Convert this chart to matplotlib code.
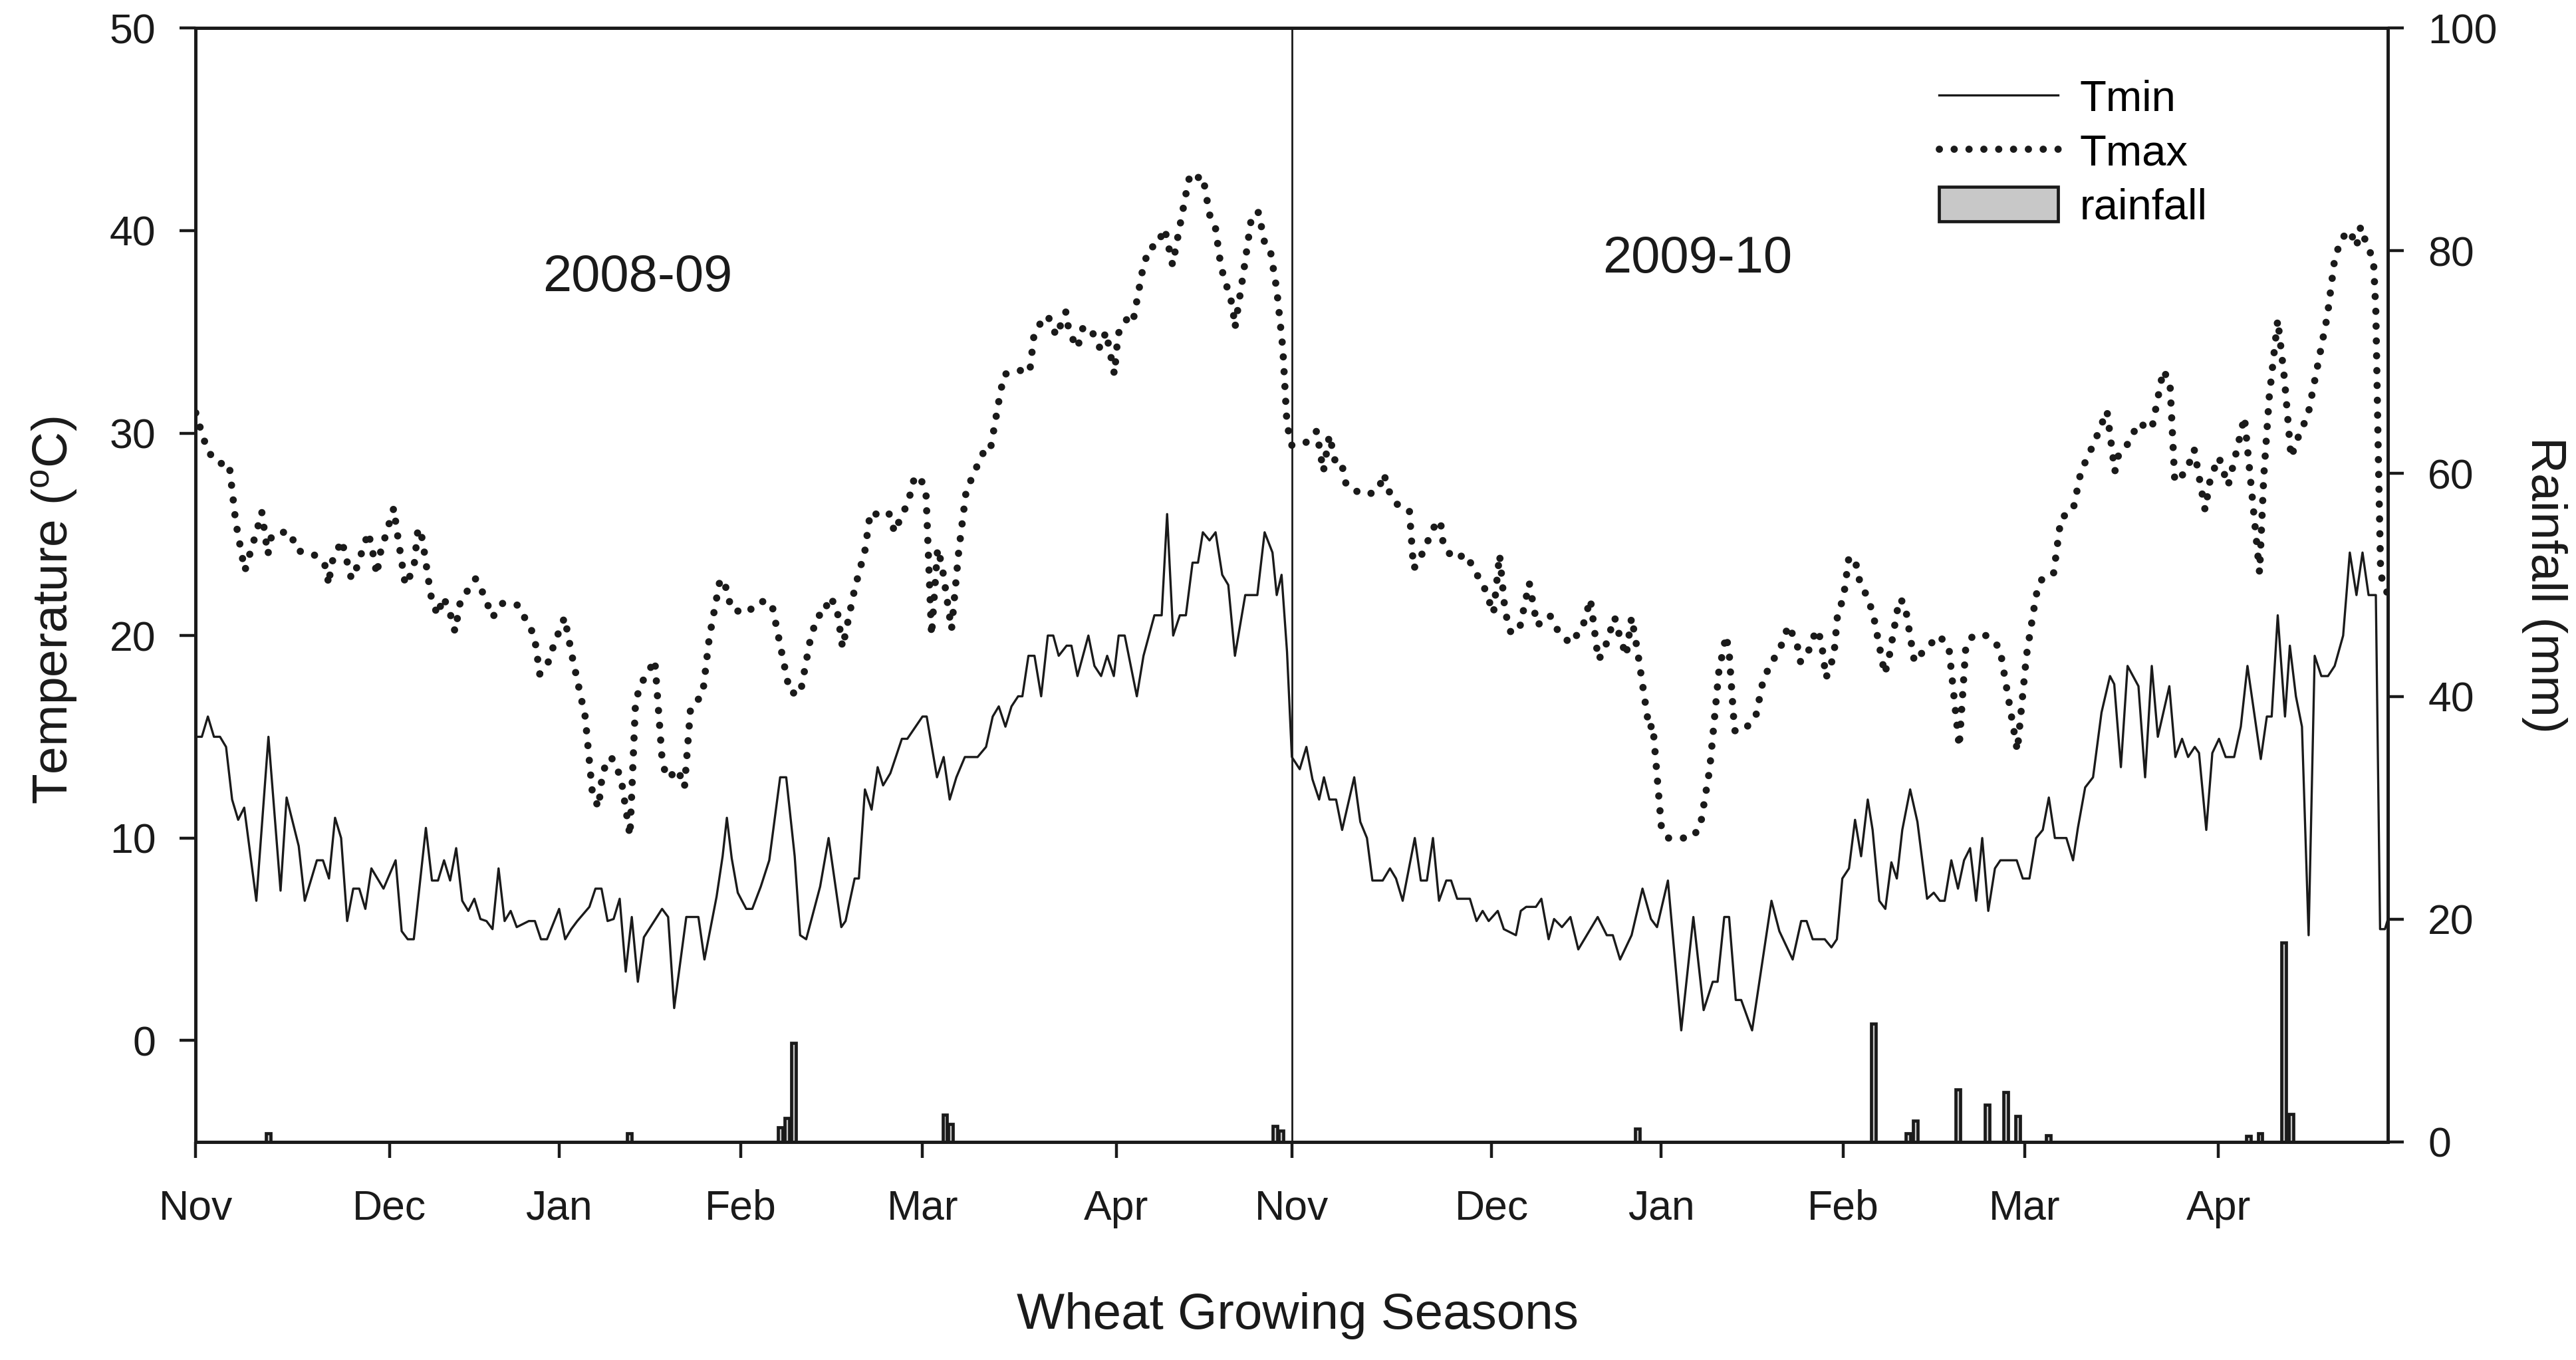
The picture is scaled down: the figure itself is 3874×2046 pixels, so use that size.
import numpy as np
import matplotlib
matplotlib.use("Agg")
import matplotlib.pyplot as plt

plt.rcParams['font.family'] = ['Liberation Sans', 'DejaVu Sans']
plt.rcParams['mathtext.fontset'] = 'custom'
plt.rcParams['mathtext.rm'] = 'Liberation Sans'

# day number counted from 1 Nov 2008 (season 2 starts at day 181)
tmin_days_0809 = [0, 1, 2, 3, 4, 5, 6, 7, 8, 10, 12, 14, 15, 17, 18, 20, 21, 22, 23, 24,
                  25, 26, 27, 28, 29, 31, 33, 34, 35, 36, 38, 39, 40, 41, 42, 43, 44, 45, 46, 47,
                  48, 49, 50, 51, 52, 53, 55, 56, 57, 58, 60, 61, 62, 63, 65, 66, 67, 68, 69, 70,
                  71, 72, 73, 74, 77, 78, 79, 81, 82, 83, 84, 86, 87, 87.7, 88.5, 89.5, 90.9, 91.9, 93.3, 94.7,
                  96.5, 97.5, 98.9, 99.8, 100.8, 103.1, 104.5, 106.6, 107.3, 108.8, 109.5, 110.5, 111.6, 112.6, 113.5, 114.7,
                  116.6, 117.5, 120, 120.7, 122.4, 123.5, 124.5, 125.6, 127, 129.1, 130.5, 131.6, 132.6, 133.7, 134.7, 135.8,
                  136.5, 137.5, 138.5, 139.6, 140.7, 141.6, 142.5, 143.8, 144.6, 145.6, 147.4, 148.4, 149.5, 150.5, 151.6, 152.4,
                  153.4, 155.4, 156.5, 158.3, 159.5, 160.4, 161.4, 162.5, 163.5, 164.6, 165.5, 166.3, 167.4, 168.4, 169.5, 170.5,
                  171.6, 173.3, 175.3, 176.5, 177.8, 178.5, 179.3, 180.2]
tmin_0809 = [15.0, 15.0, 16.0, 15.0, 15.0, 14.5, 11.9, 10.9, 11.5, 6.9, 15.0, 7.4, 12.0, 9.6, 6.9, 8.9, 8.9, 8.0, 11.0, 10.0,
             5.9, 7.5, 7.5, 6.5, 8.5, 7.5, 8.9, 5.4, 5.0, 5.0, 10.5, 7.9, 7.9, 8.9, 7.9, 9.5, 6.9, 6.4, 7.0, 6.0,
             5.9, 5.5, 8.5, 5.9, 6.4, 5.6, 5.9, 5.9, 5.0, 5.0, 6.5, 5.0, 5.5, 5.9, 6.6, 7.5, 7.5, 5.9, 6.0, 7.0,
             3.4, 6.1, 2.9, 5.1, 6.5, 6.1, 1.6, 6.1, 6.1, 6.1, 4.0, 7.1, 9.1, 11.0, 9.0, 7.3, 6.5, 6.5, 7.6, 8.9,
             13.0, 13.0, 9.1, 5.2, 5.0, 7.6, 10.0, 5.6, 5.9, 8.0, 8.0, 12.4, 11.4, 13.5, 12.6, 13.2,
             14.9, 14.9, 16.0, 16.0, 13.0, 14.0, 11.9, 13.0, 14.0, 14.0, 14.5, 16.0, 16.5, 15.5, 16.5, 17.0,
             17.0, 19.0, 19.0, 17.0, 20.0, 20.0, 19.0, 19.5, 19.5, 18.0, 20.0, 18.5, 18.0, 19.0, 18.0, 20.0,
             20.0, 17.0, 19.0, 21.0, 21.0, 26.0, 20.0, 21.0, 21.0, 23.6, 23.6, 25.1, 24.7, 25.1, 23.0, 22.5,
             19.0, 22.0, 22.0, 25.1, 24.1, 22.0, 23.0, 19.2]

tmin_days_0910 = [181, 182.3, 183.4, 184.4, 185.5, 186.3, 187.2, 188.3, 189.3, 191.3, 192.3, 193.4, 194.3, 196, 197.2, 198.2,
                  199.3, 201.3, 202.3, 203.3, 204.3, 205.3, 206.5, 207.3, 208.3, 210.4, 211.5, 212.5, 213.5, 215, 216, 218,
                  218.8, 219.7, 221.3, 222.2, 223.4, 224.3, 225.6, 227, 228.3, 231.5, 233, 234, 235.2, 237.1, 238.9, 240.3,
                  241.3, 243.1, 245.3, 247.3, 249, 250.5, 251.3, 252.4, 253.2, 254.3, 255.2, 257, 260.2, 261.5, 263.7, 265.1,
                  266, 267, 269, 270.1, 271, 271.9, 273, 274, 275, 276.1, 276.9, 278, 279, 280, 280.9, 281.8,
                  283.1, 284.3, 285.9, 287, 288, 288.8, 289.9, 291, 292, 293, 294, 295, 296, 297.1, 298, 300.7,
                  301.7, 302.8, 303.9, 305, 306, 307, 308.9, 310, 310.8, 312, 313.3, 314.7, 316.1, 316.8, 317.9, 319,
                  320.8, 321.9, 323, 324, 325.9, 326.9, 328, 329, 330.1, 330.8, 332, 333, 334.1, 335.2, 336.6, 337.7,
                  338.8, 341, 342, 342.8, 343.8, 345, 345.8, 346.8, 347.8, 348.9, 349.9, 351, 352.1, 353.2, 354.6, 355.7,
                  356.8, 357.8, 358.8, 360, 360.7, 361.5, 362]
tmin_0910 = [14.0, 13.4, 14.5, 12.9, 11.9, 13.0, 11.9, 11.9, 10.4, 13.0, 10.8, 10.0, 7.9, 7.9, 8.5, 8.0,
             6.9, 10.0, 7.9, 7.9, 10.0, 6.9, 7.9, 7.9, 7.0, 7.0, 5.9, 6.4, 5.9, 6.4, 5.5, 5.2,
             6.4, 6.6, 6.6, 7.0, 5.0, 6.0, 5.6, 6.1, 4.5, 6.1, 5.2, 5.2, 4.0, 5.2, 7.5, 6.0,
             5.6, 7.9, 0.5, 6.1, 1.5, 2.9, 2.9, 6.1, 6.1, 2.0, 2.0, 0.5, 6.9, 5.4, 4.0, 5.9,
             5.9, 5.0, 5.0, 4.6, 5.0, 8.0, 8.5, 10.9, 9.1, 11.9, 10.4, 6.9, 6.5, 8.8, 8.0, 10.4,
             12.4, 10.8, 7.0, 7.3, 6.9, 6.9, 8.9, 7.5, 8.9, 9.5, 6.9, 10.0, 6.4, 8.5, 8.9, 8.9,
             8.0, 8.0, 10.0, 10.4, 12.0, 10.0, 10.0, 8.9, 10.5, 12.5, 13.0, 16.2, 18.0, 17.6, 13.5, 18.5,
             17.5, 13.0, 18.5, 15.0, 17.5, 14.0, 14.9, 14.0, 14.5, 14.2, 10.4, 14.2, 14.9, 14.0, 14.0, 15.5,
             18.5, 13.9, 16.0, 16.0, 21.0, 16.0, 19.5, 17.0, 15.5, 5.2, 19.0, 18.0, 18.0, 18.5, 20.0, 24.1,
             22.0, 24.1, 22.0, 22.0, 5.5, 5.5, 6.0]

tmax_days_0809 = [0, 1, 2, 3.7, 5.5, 6.6, 8.1, 10, 10.9, 11.9, 12.5, 13.5, 15.6, 16.7, 19.5, 21.3,
                  22, 22.3, 24.1, 25.7, 26.4, 28.5, 29.3, 29.9, 30.4, 32.7, 33.2, 34.6, 36, 36.7, 37.4, 38.8,
                  39.9, 40.9, 42, 42.8, 43.7, 46.2, 47.6, 49, 50.7, 53.2, 55.9, 56.8, 58.1, 59.2, 60.9, 62.2,
                  64.3, 65.5, 66.5, 67.2, 68.6, 70.2, 71.7, 72.6, 73.3, 74.9, 75.8, 77, 77.7, 78.2, 79.6, 80.7,
                  81.7, 83.7, 84.8, 86.6, 87.7, 88.4, 90.9, 93.2, 95.1, 97, 98.1, 99.8, 101.6, 102.8, 103.8, 104.5,
                  105.8, 106.8, 108.8, 110.5, 111.4, 112.3, 114.4, 115.4, 116.5, 117.7, 118.4, 119.6, 120.6, 121.5, 122.5, 123.2,
                  124.8, 126, 127.2, 128.6, 130, 131.1, 132.8, 133.5, 136, 137.7, 138.4, 139.6, 140.7, 142.1, 143.7, 144.2,
                  145.6, 146.5, 147.7, 149.3, 150.3, 151.7, 152.3, 153.7, 154.7, 156.5, 157.6, 158.6, 160, 161.3, 162.3, 163.5,
                  164.2, 165.3, 166.3, 167.4, 168.4, 169.3, 171.2, 171.6, 173, 174.4, 175.5, 176.5, 177.4, 178.5, 179.5, 180.2]
tmax_0809 = [31.0, 30.0, 29.1, 28.5, 28.5, 25.6, 23.2, 25.1, 26.1, 24.0, 24.9, 25.1, 25.1, 24.2, 24.0, 23.5,
             22.5, 23.5, 24.7, 22.8, 23.2, 25.1, 24.0, 23.0, 24.0, 26.3, 25.2, 22.5, 23.3, 25.3, 24.8, 22.0,
             21.0, 21.9, 21.1, 20.2, 21.7, 22.8, 22.0, 20.9, 21.6, 21.5, 20.0, 18.1, 18.6, 19.6, 20.9, 18.9,
             16.0, 12.2, 11.5, 13.3, 14.0, 13.0, 10.1, 16.6, 17.5, 18.3, 18.8, 13.9, 13.0, 13.0, 13.4, 12.5,
             16.4, 17.1, 19.9, 22.8, 22.3, 21.3, 21.1, 21.7, 21.6, 18.8, 17.2, 17.1, 20.0, 21.0, 21.0, 21.9,
             21.5, 19.4, 22.3, 24.2, 26.1, 26.0, 26.1, 25.1, 25.9, 26.6, 27.6, 27.9, 26.9, 20.0, 24.3, 23.5,
             20.3, 24.2, 27.1, 28.1, 29.0, 29.0, 31.9, 32.9, 33.1, 33.0, 34.8, 35.5, 35.8, 34.8, 36.0, 35.0,
             34.2, 35.2, 35.2, 34.2, 35.0, 32.9, 34.9, 35.6, 35.4, 38.3, 39.2, 39.2, 40.1, 38.3, 39.9, 41.8,
             42.8, 42.6, 42.7, 40.8, 40.1, 38.2, 36.3, 35.2, 37.9, 40.8, 40.9, 39.4, 39.1, 37.1, 34.2, 30.4]

tmax_days_0910 = [181, 183.2, 185.1, 186.2, 187.2, 188.3, 189.3, 190, 192.5, 193.9, 195.3, 196.2, 196.9, 198.3, 200.4, 201.1,
                  202, 205, 205.6, 206, 207.6, 209.9, 211.1, 212.5, 214.3, 215.3, 216.2, 217.1, 218.5, 220.2, 221.5, 223.6,
                  225, 227, 229, 230.3, 231.6, 232.5, 234.3, 235.1, 236.2, 237.1, 238.1, 240, 240.6, 242, 243.1, 245.2,
                  246.9, 248.4, 250, 251.5, 252.7, 253.2, 254.1, 255.6, 257.6, 258.9, 260.7, 261.8, 263, 264.4, 265, 266.4,
                  267.6, 268.4, 269.2, 270.5, 271.1, 272.1, 273, 274.1, 274.9, 276.1, 277.1, 278.9, 279.6, 280.2, 281.3, 282.2,
                  283.8, 285.5, 287.9, 289.5, 291.2, 292.3, 293.5, 295.7, 297.9, 300.8, 302.3, 303.9, 305, 306.8, 308, 310,
                  311.3, 313.6, 315.6, 316.9, 317.5, 319.4, 320.7, 323, 324.9, 326, 326.8, 328.7, 330, 331.8, 332.7, 334.1,
                  335.6, 336.6, 338.3, 340.8, 341.5, 342.4, 343.8, 344.9, 346, 347.3, 348.8, 350.7, 352, 353.2, 354.3, 355.7,
                  356.8, 357.5, 358.6, 359.6, 360, 360.4, 360.8, 362]
tmax_0910 = [29.4, 29.5, 30.1, 28.1, 29.9, 28.4, 28.4, 27.4, 27.0, 27.0, 27.2, 28.0, 27.2, 26.5, 26.2, 23.3,
             23.7, 25.7, 25.5, 24.5, 23.8, 24.0, 23.2, 22.6, 21.1, 24.0, 21.2, 20.2, 20.2, 22.6, 20.5, 21.0,
             20.2, 19.6, 20.4, 21.8, 18.8, 19.2, 20.9, 20.0, 19.0, 20.9, 19.2, 15.4, 15.6, 10.6, 10.0, 10.0,
             10.0, 10.5, 13.4, 18.2, 20.0, 19.2, 15.3, 15.3, 16.0, 17.9, 18.9, 19.5, 20.5, 19.6, 18.7, 19.3,
             20.3, 19.8, 17.9, 19.0, 21.0, 21.9, 23.9, 23.6, 22.5, 21.9, 20.9, 18.1, 18.9, 19.9, 21.8, 21.6,
             18.7, 19.3, 20.0, 19.4, 14.5, 19.5, 20.0, 20.0, 19.4, 14.3, 19.0, 22.0, 22.9, 23.1, 25.8, 26.2,
             28.1, 29.6, 31.1, 28.1, 28.9, 29.6, 30.5, 30.2, 33.1, 32.5, 27.6, 28.1, 29.2, 26.2, 27.8, 28.8,
             27.4, 28.6, 30.8, 23.1, 27.9, 31.8, 35.6, 32.7, 28.8, 29.9, 30.9, 33.8, 35.8, 38.6, 39.6, 40.0,
             39.2, 40.2, 39.2, 38.6, 36.0, 29.0, 23.0, 22.0]

rain_days = [12, 71.6, 96.5, 97.6, 98.7, 123.7, 124.6, 178.2, 179.2, 238.1, 277, 282.8, 284,
             291, 295.8, 298.9, 300.9, 305.9, 339, 340.9, 344.8, 346]
rain_mm = [0.75, 0.75, 1.3, 2.1, 8.9, 2.4, 1.6, 1.4, 1.0, 1.15, 10.6, 0.75, 1.9,
           4.7, 3.3, 4.45, 2.3, 0.6, 0.5, 0.75, 17.9, 2.5]

month_pos = [0, 32, 60, 90, 120, 152, 181, 214, 242, 272, 302, 334]
month_labels = ['Nov', 'Dec', 'Jan', 'Feb', 'Mar', 'Apr', 'Nov', 'Dec', 'Jan', 'Feb', 'Mar', 'Apr']

tmin_days = tmin_days_0809 + tmin_days_0910
tmin = tmin_0809 + tmin_0910
tmax_days = tmax_days_0809 + tmax_days_0910
tmax = tmax_0809 + tmax_0910

fig = plt.figure(figsize=(19.37, 10.23), dpi=200)
ax = fig.add_axes([0.076, 0.1605, 0.851, 0.8188])
ax2 = ax.twinx()

# temperatures
ln_min, = ax.plot(tmin_days, tmin, color='#1a1a1a', lw=1.2, label='Tmin')
ln_max, = ax.plot(tmax_days, tmax, color='#1a1a1a', lw=3.9, linestyle=(0, (0.01, 2.05)),
                  dash_capstyle='round', label='Tmax')
ax.axvline(181, color='#1a1a1a', lw=1.0)

# rainfall bars on right axis
bars = ax2.bar(rain_days, rain_mm, width=0.75, color='#c8c8c8', edgecolor='#1a1a1a',
               linewidth=1.7, label='rainfall')

ax.set_xlim(0, 362)
ax.set_ylim(-5, 50)
ax2.set_ylim(0, 100)
ax.set_yticks([0, 10, 20, 30, 40, 50])
ax2.set_yticks([0, 20, 40, 60, 80, 100])
ax.set_xticks(month_pos)
ax.set_xticklabels(month_labels)

for a in (ax, ax2):
    for s in a.spines.values():
        s.set_linewidth(1.7)
        s.set_color('#1a1a1a')
ax.tick_params(axis='both', direction='out', length=8.6, width=1.6, labelsize=22.5, pad=13,
               colors='#1a1a1a')
ax.tick_params(axis='x', pad=17)
ax2.tick_params(axis='y', direction='out', length=8.6, width=1.6, labelsize=22.5, pad=13,
                colors='#1a1a1a')

ax.set_ylabel('Temperature ($\\mathregular{^{o}}$C)', fontsize=27, color='#1a1a1a')
ax.yaxis.label.set_verticalalignment('center')
ax.yaxis.set_label_coords(-0.0646, 0.477)
ax2.set_ylabel('Rainfall (mm)', fontsize=27, color='#1a1a1a', rotation=270)
ax2.yaxis.label.set_verticalalignment('center')
ax2.yaxis.set_label_coords(1.0714, 0.5)
ax.set_xlabel('Wheat Growing Seasons', fontsize=27.5, color='#1a1a1a')
ax.xaxis.label.set_verticalalignment('center')
ax.xaxis.set_label_coords(0.5026, -0.1566)

ax.text(73, 37.7, '2008-09', fontsize=28, ha='center', va='center', color='#1a1a1a')
ax.text(248, 38.6, '2009-10', fontsize=28, ha='center', va='center', color='#1a1a1a')

fig.legend(handles=[ln_min, ln_max, bars], loc='upper left', bbox_to_anchor=(0.7526, 0.942),
           frameon=False, fontsize=23.5, handlelength=2.75, handletextpad=0.5,
           handleheight=0.85, labelspacing=0.3, borderpad=0, borderaxespad=0)

fig.savefig('out.png', dpi=200)
